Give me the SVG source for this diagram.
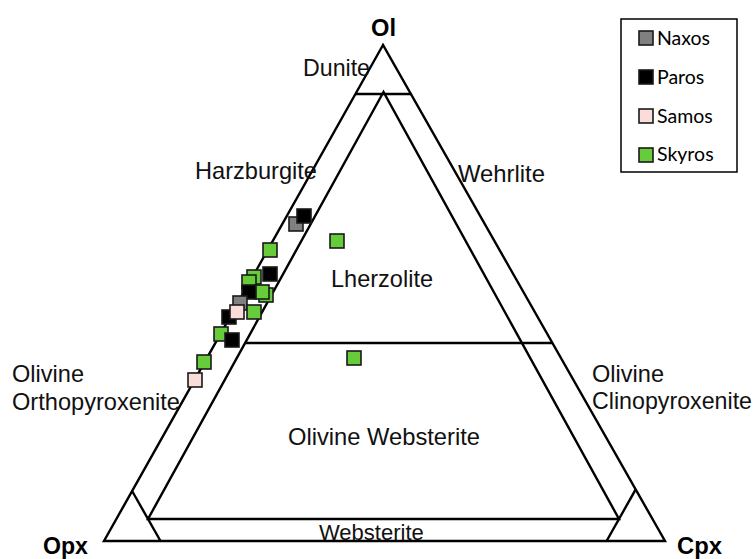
<svg xmlns="http://www.w3.org/2000/svg" width="756" height="559" viewBox="0 0 756 559">
<style>
.ln{fill:none;stroke:#000;stroke-width:2.4;stroke-linejoin:miter}
.t{font-family:"Liberation Sans",Arial,sans-serif;font-size:24px;fill:#111}
.b{font-family:"Liberation Sans",Arial,sans-serif;font-size:24px;font-weight:bold;fill:#000}
.lg{font-family:Lato,"Liberation Sans",sans-serif;font-size:19.5px;fill:#000}
.pt{stroke:#1a1a1a;stroke-width:1.6}
.nx{fill:#808080}.pr{fill:#000}.sm{fill:#fadcd8}.sk{fill:#66cc3a}
</style>
<rect width="756" height="559" fill="#fff"/>
<g id="connectors">
<path class="ln" d="M383,45 L104,541 L665,541 Z"/>
<path class="ln" d="M355.4,94 L410.9,94"/>
<path class="ln" d="M383.5,92 L148,519 L619,519 Z"/>
<path class="ln" d="M245,343 L552,343"/>
<path class="ln" d="M132.1,491 L160.5,541"/>
<path class="ln" d="M635.7,489.4 L606.6,541"/>
</g>
<g id="apex-labels">
<text class="b" x="371" y="36" textLength="25" lengthAdjust="spacingAndGlyphs">Ol</text>
<text class="b" x="43" y="554" textLength="45" lengthAdjust="spacingAndGlyphs">Opx</text>
<text class="b" x="677" y="554" textLength="45" lengthAdjust="spacingAndGlyphs">Cpx</text>
</g>
<g id="field-labels">
<text class="t" x="303" y="76" textLength="67" lengthAdjust="spacingAndGlyphs">Dunite</text>
<text class="t" x="195" y="179" textLength="122" lengthAdjust="spacingAndGlyphs">Harzburgite</text>
<text class="t" x="458" y="182" textLength="87" lengthAdjust="spacingAndGlyphs">Wehrlite</text>
<text class="t" x="331" y="287" textLength="102" lengthAdjust="spacingAndGlyphs">Lherzolite</text>
<text class="t" x="288" y="445" textLength="192" lengthAdjust="spacingAndGlyphs">Olivine Websterite</text>
<text class="t" x="319" y="540" style="font-size:22px">Websterite</text>
<text class="t" x="12" y="382" textLength="72" lengthAdjust="spacingAndGlyphs">Olivine</text>
<text class="t" x="12" y="410" textLength="168" lengthAdjust="spacingAndGlyphs">Orthopyroxenite</text>
<text class="t" x="592" y="382" textLength="72" lengthAdjust="spacingAndGlyphs">Olivine</text>
<text class="t" x="592" y="409" textLength="160" lengthAdjust="spacingAndGlyphs">Clinopyroxenite</text>
</g>
<g id="data-points">
<rect class="pt nx" x="289" y="217" width="14" height="14"/>
<rect class="pt pr" x="297" y="209" width="14" height="14"/>
<rect class="pt sk" x="263" y="243" width="14" height="14"/>
<rect class="pt sk" x="330" y="234" width="14" height="14"/>
<rect class="pt sk" x="247" y="270" width="14" height="14"/>
<rect class="pt pr" x="263" y="267" width="14" height="14"/>
<rect class="pt sk" x="242" y="275" width="14" height="14"/>
<rect class="pt sk" x="259" y="288" width="14" height="14"/>
<rect class="pt sk" x="255" y="285" width="14" height="14"/>
<rect class="pt pr" x="242" y="285" width="14" height="14"/>
<rect class="pt nx" x="233" y="296" width="14" height="14"/>
<rect class="pt pr" x="222" y="310" width="14" height="14"/>
<rect class="pt sm" x="230" y="305" width="14" height="14"/>
<rect class="pt sk" x="247" y="305" width="14" height="14"/>
<rect class="pt sk" x="214" y="327" width="14" height="14"/>
<rect class="pt pr" x="225" y="333" width="14" height="14"/>
<rect class="pt sk" x="197" y="355" width="14" height="14"/>
<rect class="pt sm" x="188" y="373" width="14" height="14"/>
<rect class="pt sk" x="347" y="351" width="14" height="14"/>
</g>
<g id="legend">
<rect x="621" y="19" width="116" height="153" fill="#fff" stroke="#000" stroke-width="1.5"/>
<rect class="pt nx" x="639" y="31" width="14" height="14"/>
<text class="lg" x="657" y="45">Naxos</text>
<rect class="pt pr" x="639" y="70" width="14" height="14"/>
<text class="lg" x="657" y="84">Paros</text>
<rect class="pt sm" x="639" y="109" width="14" height="14"/>
<text class="lg" x="657" y="123">Samos</text>
<rect class="pt sk" x="639" y="148" width="14" height="14"/>
<text class="lg" x="657" y="161">Skyros</text>
</g>
</svg>
